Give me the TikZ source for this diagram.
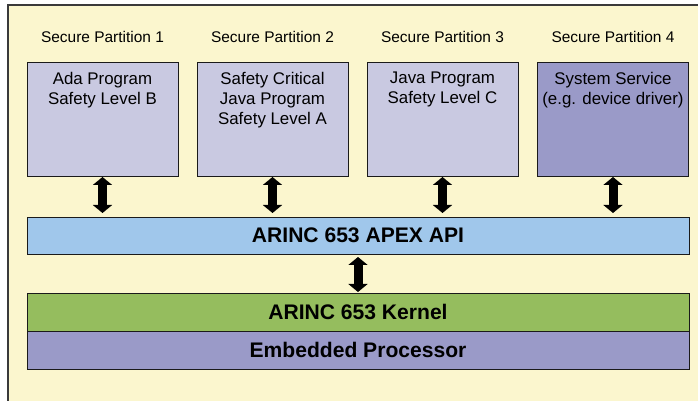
\documentclass[tikz,border=0pt]{standalone}
\usepackage{fontspec}
\setmainfont{Liberation Sans}
\usepackage{tikz}
\usetikzlibrary{arrows.meta, positioning}
\usepackage{xcolor}
\definecolor{cCream}{HTML}{FBF6CE}
\definecolor{cFrame}{HTML}{3A3A3A}
\definecolor{cEdge}{HTML}{1A1A1A}
\definecolor{cPartA}{HTML}{C9C9E1}
\definecolor{cPartB}{HTML}{9A9AC8}
\definecolor{cApi}{HTML}{A0C7EB}
\definecolor{cKernel}{HTML}{95BD5E}
\definecolor{cProc}{HTML}{9A9AC8}

\begin{document}
\begin{tikzpicture}[
  every node/.style={outer sep=0pt},
  part/.style={rectangle, draw=cEdge, line width=0.7pt, fill=cPartA,
               minimum width=3.775cm, minimum height=2.85cm, inner sep=0pt},
  sysbox/.style={part, fill=cPartB},
  parttitle/.style={font=\fontsize{11}{13}\selectfont, inner sep=0pt},
  parttext/.style={align=center, font=\fontsize{12}{14.2}\selectfont,
                   inner sep=0pt, anchor=north},
  layer/.style={rectangle, draw=cEdge, line width=0.7pt, minimum width=16.55cm,
                minimum height=0.925cm, inner sep=0pt,
                font=\bfseries\fontsize{15}{18}\selectfont},
  dbl/.style={{Triangle[width=0.475cm, length=0.2cm]}-{Triangle[width=0.475cm, length=0.2cm]},
              line width=0.225cm},
]
\useasboundingbox (0,0) rectangle (17.45,-10.025);

% ---- Frame ----
\draw[fill=cCream, draw=cFrame, line width=0.8pt] (0.2,-0.125) rectangle (17.8,-10.4);

% ---- Partitions (top) ----
\node[part]   (p1) at (2.5625,-2.975) {};
\node[part]   (p2) at (6.8125,-2.975) {};
\node[part]   (p3) at (11.0625,-2.975) {};
\node[sysbox] (p4) at (15.325,-2.975) {};

\node[parttitle, above=0.475cm of p1] (s1) {Secure Partition 1};
\node[parttitle, above=0.475cm of p2] (s2) {Secure Partition 2};
\node[parttitle, above=0.475cm of p3] (s3) {Secure Partition 3};
\node[parttitle, above=0.475cm of p4] (s4) {Secure Partition 4};

\node[parttext] (t1) at ([yshift=-0.25cm]p1.north) {Ada Program\\Safety Level B};
\node[parttext] (t2) at ([yshift=-0.25cm]p2.north) {Safety Critical\\Java Program\\Safety Level A};
\node[parttext] (t3) at ([yshift=-0.25cm]p3.north) {Java Program\\Safety Level C};
\node[parttext] (t4) at ([yshift=-0.25cm]p4.north) {System Service\\(e.g. device driver)};

% ---- Layers (bottom) ----
\node[layer, fill=cApi] (api) at (8.95,-5.8875) {ARINC 653 APEX API};
\node[layer, fill=cKernel, minimum height=0.95cm] (kern) at (8.95,-7.8) {ARINC 653 Kernel};
\node[layer, fill=cProc, minimum height=0.95cm, below=0pt of kern] (proc) {Embedded Processor};

% ---- Arrows ----
\draw[dbl] ([yshift=-0.025cm]p1.south) -- ([yshift=0.1cm]p1.south |- api.north);
\draw[dbl] ([yshift=-0.025cm]p2.south) -- ([yshift=0.1cm]p2.south |- api.north);
\draw[dbl] ([yshift=-0.025cm]p3.south) -- ([yshift=0.1cm]p3.south |- api.north);
\draw[dbl] ([yshift=-0.025cm]p4.south) -- ([yshift=0.1cm]p4.south |- api.north);
\draw[dbl] ([yshift=-0.075cm]api.south) -- ([yshift=0.025cm]kern.north);

\end{tikzpicture}
\end{document}
